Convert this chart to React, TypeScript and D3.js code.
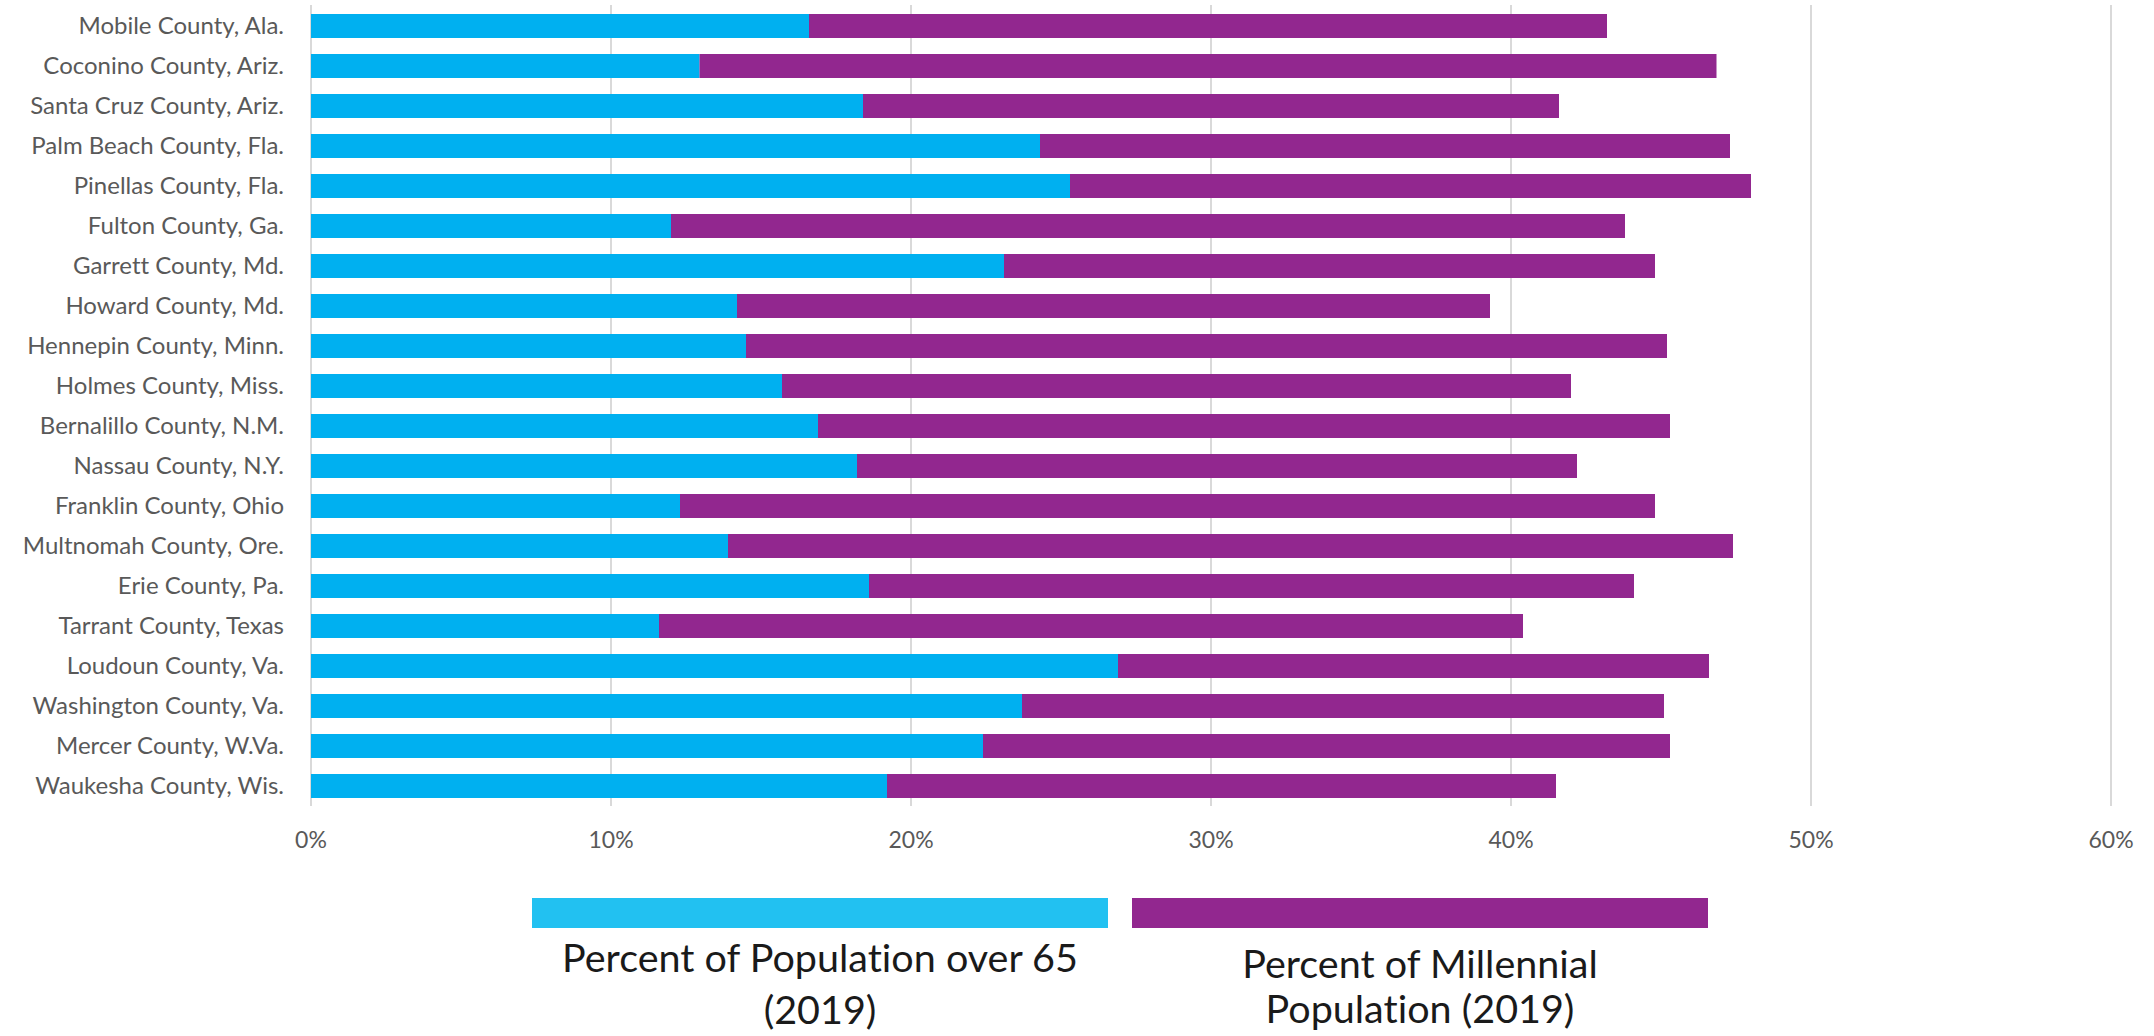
import * as d3 from "d3";

const counties = [
  "Mobile County, Ala.",
  "Coconino County, Ariz.",
  "Santa Cruz County, Ariz.",
  "Palm Beach County, Fla.",
  "Pinellas County, Fla.",
  "Fulton County, Ga.",
  "Garrett County, Md.",
  "Howard County, Md.",
  "Hennepin County, Minn.",
  "Holmes County, Miss.",
  "Bernalillo County, N.M.",
  "Nassau County, N.Y.",
  "Franklin County, Ohio",
  "Multnomah County, Ore.",
  "Erie County, Pa.",
  "Tarrant County, Texas",
  "Loudoun County, Va.",
  "Washington County, Va.",
  "Mercer County, W.Va.",
  "Waukesha County, Wis.",
];

// percent of population over 65 (2019)
const over65 = [
  16.6, 12.95, 18.4, 24.3, 25.3, 12.0, 23.1, 14.2, 14.5, 15.7,
  16.9, 18.2, 12.3, 13.9, 18.6, 11.6, 26.9, 23.7, 22.4, 19.2,
];

// percent of millennial population (2019)
const millennial = [
  26.6, 33.9, 23.2, 23.0, 22.7, 31.8, 21.7, 25.1, 30.7, 26.3,
  28.4, 24.0, 32.5, 33.5, 25.5, 28.8, 19.7, 21.4, 22.9, 22.3,
];

const ticks = [0, 10, 20, 30, 40, 50, 60];

const legendItems = [
  { lines: ["Percent of Population over 65", "(2019)"], color: "#22C1F1", base: [972, 1024] },
  { lines: ["Percent of Millennial", "Population (2019)"], color: "#92278F", base: [978, 1023] },
];

const BLUE = "#00B0F0";
const PURPLE = "#92278F";
const FONT = "Lato, 'Open Sans', sans-serif";

export default function App() {
  const width = 2154;
  const height = 1036;
  const left = 311;
  const right = 2111;
  const top = 6;
  const bottom = 806;

  const x = d3.scaleLinear().domain([0, 60]).range([left, right]);
  const y = d3.scaleBand<string>().domain(counties).range([top, bottom]).paddingInner(0.4).paddingOuter(0.2);

  const legendX = d3.scaleBand<number>().domain([0, 1]).range([532, 1708]).paddingInner(24 / 600);

  return (
    <svg
      width={width}
      height={height}
      style={{ position: "absolute", left: 0, top: 0, background: "#fff", fontVariantLigatures: "none" }}
      fontFamily={FONT}
    >
      {ticks.map((t) => (
        <g key={t}>
          <line x1={x(t)} x2={x(t)} y1={top - 1} y2={bottom} stroke="#d9d9d9" strokeWidth={2} />
          <text x={x(t)} y={848} textAnchor="middle" fontSize={23} fill="#595959">
            {t}%
          </text>
        </g>
      ))}

      {counties.map((c, i) => {
        const yy = y(c)!;
        const h = y.bandwidth();
        return (
          <g key={c}>
            <rect x={x(0)} y={yy} width={x(over65[i]) - x(0)} height={h} fill={BLUE} />
            <rect
              x={x(over65[i])}
              y={yy}
              width={x(over65[i] + millennial[i]) - x(over65[i])}
              height={h}
              fill={PURPLE}
            />
            <text x={284} y={yy + h / 2} dy="0.35em" textAnchor="end" fontSize={24} fill="#595959">
              {c}
            </text>
          </g>
        );
      })}

      {legendItems.map((item, i) => {
        const lx = legendX(i)!;
        const lw = legendX.bandwidth();
        return (
          <g key={i}>
            <rect x={lx} y={898} width={lw} height={30} fill={item.color} />
            {item.lines.map((ln, j) => (
              <text key={j} x={lx + lw / 2} y={item.base[j]} textAnchor="middle" fontSize={39.5} fill="#1a1a1a">
                {ln}
              </text>
            ))}
          </g>
        );
      })}
    </svg>
  );
}
